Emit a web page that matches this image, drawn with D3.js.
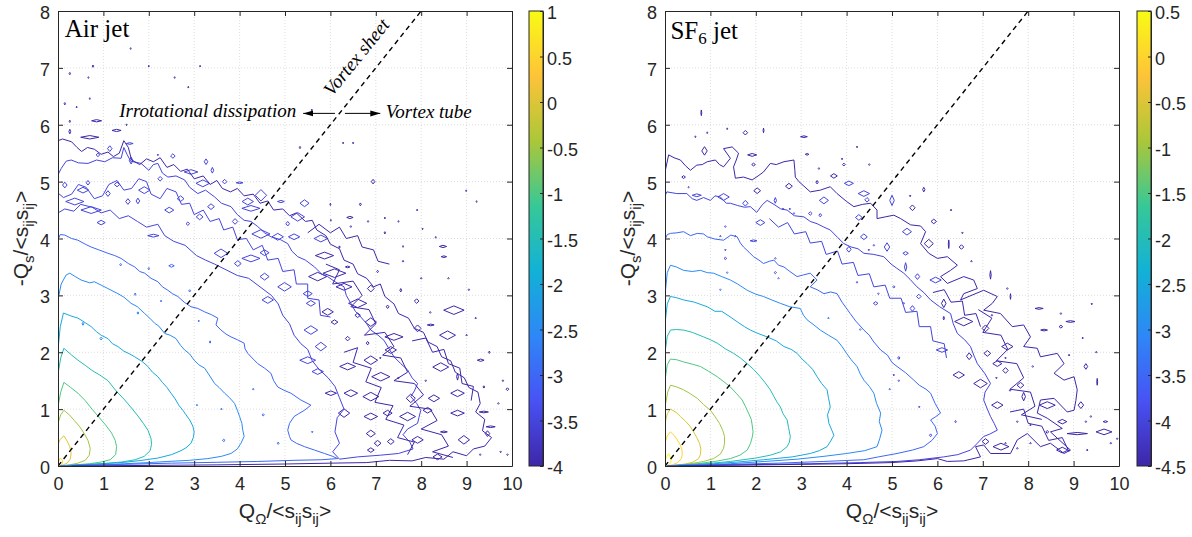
<!DOCTYPE html>
<html>
<head>
<meta charset="utf-8">
<script src="https://cdn.jsdelivr.net/npm/d3@7"></script>
<style>
  body { margin: 0; background: #fff; }
  svg text { font-family: "Liberation Sans", Arial, sans-serif; fill: #262626; }
</style>
</head>
<body>
<div id="chart"></div>
<script>
// ---- ticks ----
var xTickVals = [0, 1, 2, 3, 4, 5, 6, 7, 8, 9, 10];
var yTickVals = [0, 1, 2, 3, 4, 5, 6, 7, 8];
var airCbTicks = [1, 0.5, 0, -0.5, -1, -1.5, -2, -2.5, -3, -3.5, -4];
var sf6CbTicks = [0.5, 0, -0.5, -1, -1.5, -2, -2.5, -3, -3.5, -4, -4.5];
var diagLine = [[0, 0], [8, 8]];

// ---- Air jet contour lines (log10 PDF levels) ----
var airC05 = [[0,0.05],[0.05,0.14],[0.1,0.1],[0.09,0.03],[0.04,0.005]];
var airC0 = [[0,0.38],[0.05,0.47],[0.13,0.53],[0.2,0.44],[0.26,0.34],[0.29,0.22],[0.27,0.12],[0.2,0.05],[0.1,0.015],[0.02,0.003]];
var airCm05 = [[0,0.75],[0.06,0.9],[0.13,0.98],[0.25,0.9],[0.36,0.8],[0.47,0.7],[0.57,0.58],[0.66,0.45],[0.71,0.31],[0.69,0.19],[0.6,0.1],[0.44,0.05],[0.25,0.02],[0.08,0.005]];
var airCm1 = [[0,1.05],[0.06,1.3],[0.13,1.47],[0.28,1.38],[0.44,1.28],[0.6,1.15],[0.75,1.0],[0.9,0.86],[1.05,0.72],[1.18,0.58],[1.26,0.45],[1.29,0.34],[1.27,0.2],[1.15,0.11],[0.95,0.07],[0.7,0.04],[0.44,0.025],[0.15,0.008]];
var airCm15 = [[0,1.62],[0.06,1.9],[0.13,2.07],[0.3,1.95],[0.44,1.86],[0.6,1.77],[0.75,1.68],[0.92,1.6],[1.1,1.5],[1.28,1.32],[1.47,1.16],[1.62,1.02],[1.76,0.88],[1.88,0.75],[1.98,0.63],[2.05,0.48],[2.06,0.38],[2.03,0.27],[1.9,0.17],[1.7,0.11],[1.4,0.07],[1.1,0.05],[0.7,0.03],[0.35,0.015],[0.05,0.003]];
var airCm2 = [[0,2.05],[0.05,2.45],[0.12,2.69],[0.28,2.64],[0.44,2.6],[0.6,2.52],[0.73,2.45],[0.85,2.36],[0.95,2.3],[1.1,2.24],[1.2,2.15],[1.32,2.1],[1.45,2.02],[1.58,1.97],[1.69,1.92],[1.85,1.84],[1.98,1.75],[2.08,1.65],[2.2,1.57],[2.3,1.47],[2.4,1.38],[2.49,1.28],[2.58,1.18],[2.66,1.07],[2.75,0.98],[2.82,0.9],[2.9,0.81],[2.97,0.7],[3.0,0.6],[2.98,0.5],[2.93,0.4],[2.82,0.32],[2.71,0.27],[2.5,0.2],[2.2,0.14],[1.85,0.1],[1.47,0.065],[1.0,0.04],[0.59,0.02],[0.1,0.005]];
var airCm25 = [[0,2.92],[0.07,3.2],[0.18,3.36],[0.26,3.39],[0.38,3.33],[0.51,3.27],[0.7,3.22],[0.8,3.24],[0.95,3.18],[1.1,3.12],[1.32,3.03],[1.45,2.97],[1.61,2.86],[1.75,2.8],[1.91,2.68],[2.02,2.6],[2.13,2.51],[2.22,2.46],[2.35,2.33],[2.47,2.3],[2.6,2.24],[2.7,2.12],[2.79,2.04],[2.9,1.97],[3.0,1.86],[3.1,1.78],[3.23,1.72],[3.33,1.6],[3.45,1.45],[3.55,1.38],[3.67,1.28],[3.78,1.2],[3.89,1.1],[3.95,0.98],[4.0,0.87],[4.05,0.75],[4.07,0.63],[4.1,0.52],[4.03,0.4],[3.95,0.3],[3.81,0.22],[3.6,0.17],[3.3,0.13],[2.9,0.1],[2.42,0.08],[2.0,0.06],[1.47,0.04],[0.9,0.02],[0.44,0.01],[0.05,0.002]];
var airCm3 = [[0,3.98],[0.05,4.07],[0.15,4.06],[0.3,4.0],[0.44,3.97],[0.6,3.9],[0.73,3.85],[0.9,3.8],[1.1,3.74],[1.25,3.7],[1.39,3.65],[1.55,3.56],[1.69,3.5],[1.8,3.42],[1.91,3.39],[2.05,3.3],[2.2,3.24],[2.3,3.15],[2.42,3.09],[2.52,3.03],[2.64,2.98],[2.78,2.88],[2.93,2.8],[3.08,2.77],[3.23,2.71],[3.38,2.66],[3.52,2.6],[3.48,2.48],[3.59,2.39],[3.7,2.32],[3.81,2.27],[3.95,2.22],[4.1,2.16],[4.12,2.06],[4.18,1.98],[4.3,1.88],[4.4,1.8],[4.55,1.72],[4.69,1.63],[4.75,1.5],[4.84,1.39],[4.98,1.33],[5.13,1.28],[5.35,1.16],[5.57,1.07],[5.43,0.98],[5.3,0.92],[5.2,0.87],[5.1,0.75],[5.06,0.63],[5.1,0.52],[5.13,0.46],[5.25,0.4],[5.43,0.34],[5.65,0.28],[5.87,0.22],[6.05,0.17],[6.16,0.13],[5.8,0.11],[5.2,0.1],[4.4,0.08],[3.5,0.065],[2.5,0.05],[1.5,0.03],[0.6,0.015],[0.05,0.003]];
var airCm35a = [[0,5.12],[0.07,5.23],[0.18,5.36],[0.29,5.38],[0.45,5.33],[0.66,5.32],[0.85,5.38],[1.03,5.35],[1.2,5.42],[1.39,5.41],[1.45,5.6],[1.52,5.48],[1.6,5.36],[1.83,5.32],[2.0,5.2],[2.1,5.3],[2.2,5.32],[2.3,5.15],[2.42,5.08],[2.6,5.1],[2.79,5.03],[2.9,4.9],[3.08,4.79],[3.25,4.85],[3.45,4.73],[3.6,4.62],[3.81,4.56],[3.95,4.42],[4.1,4.32],[4.25,4.3],[4.4,4.21],[4.55,4.1],[4.69,4.03],[4.9,3.98],[5.06,3.91],[5.15,3.78],[5.28,3.68],[5.45,3.62],[5.65,3.5],[5.8,3.38],[5.94,3.33],[6.1,3.24],[6.3,3.15],[6.35,3.0],[6.45,2.86],[6.55,2.72],[6.67,2.62],[6.8,2.5],[6.89,2.39],[7.05,2.3],[7.18,2.21],[7.3,2.05],[7.4,1.92],[7.55,1.8],[7.7,1.69],[7.8,1.55],[7.92,1.45],[7.85,1.32],[7.77,1.22],[7.9,1.1],[7.99,0.98],[7.95,0.85],[7.92,0.75],[7.7,0.65],[7.6,0.55],[7.75,0.42],[7.82,0.3],[7.5,0.22],[7.1,0.19],[6.6,0.16],[6.2,0.12]];
var airCm35b = [[0,4.45],[0.15,4.52],[0.35,4.48],[0.5,4.6],[0.75,4.55],[0.95,4.45],[1.15,4.5],[1.35,4.35],[1.55,4.4],[1.75,4.3],[1.95,4.2],[2.2,4.25],[2.35,4.05],[2.55,3.95],[2.8,3.88],[3.05,3.7],[3.25,3.62],[3.45,3.55],[3.7,3.45],[3.95,3.35],[4.2,3.3],[4.45,3.15],[4.7,3.0],[4.85,2.85],[4.95,2.65],[5.1,2.5],[5.2,2.3],[5.35,2.15],[5.5,2.05],[5.6,1.85],[5.75,1.7],[5.95,1.55],[6.1,1.4],[6.2,1.2],[6.3,1.0],[6.15,0.85],[6.1,0.6],[6.2,0.4],[6.05,0.25],[6.2,0.12]];
var airCm35c = [[0,4.8],[0.12,4.72],[0.3,4.78],[0.45,4.95],[0.62,4.9],[0.8,4.7],[0.98,4.75],[1.12,4.95],[1.3,5.02],[1.45,4.85],[1.62,4.88],[1.78,5.05],[1.95,5.0],[2.05,4.78],[2.25,4.7],[2.4,4.88],[2.6,4.82],[2.72,4.6],[2.9,4.62],[3.0,4.42],[3.2,4.5],[3.35,4.3],[3.55,4.35],[3.65,4.15],[3.85,4.2],[3.95,3.98],[4.15,4.0],[4.3,3.8],[4.5,3.88],[4.62,3.62],[4.85,3.65],[4.95,3.42],[5.2,3.45],[5.25,3.2],[5.5,3.2],[5.5,2.95],[5.75,2.92],[5.78,2.65],[6.0,2.62]];
var airCm4 = [[0,5.72],[0.1,5.75],[0.3,5.7],[0.42,5.6],[0.52,5.53],[0.65,5.6],[0.8,5.57],[0.95,5.48],[1.1,5.52],[1.22,5.44],[1.35,5.5],[1.45,5.72],[1.55,5.6],[1.62,5.38],[1.8,5.3],[1.95,5.4],[2.1,5.35],[2.25,5.42],[2.4,5.25],[2.55,5.3],[2.7,5.18],[2.85,5.22],[3.0,5.05],[3.2,5.1],[3.35,4.95],[3.5,5.02],[3.62,4.88],[3.8,4.82],[3.95,4.88],[4.1,4.75],[4.3,4.78],[4.45,4.62],[4.62,4.66],[4.75,4.5],[4.95,4.52],[5.1,4.4],[5.25,4.45],[5.45,4.3],[5.6,4.32],[5.7,4.15],[5.9,4.05],[6.0,3.9],[6.2,3.82],[6.3,3.62],[6.5,3.55],[6.6,3.38],[6.8,3.3],[6.95,3.15],[7.1,3.2],[7.2,2.98],[7.4,2.85],[7.5,2.68],[7.72,2.6],[7.85,2.42],[8.05,2.35],[8.15,2.18],[8.35,2.1],[8.45,1.92],[8.65,1.85],[8.75,1.65],[8.95,1.55],[9.05,1.38],[9.25,1.3],[9.3,1.1],[9.2,0.95],[9.4,0.82],[9.35,0.62],[9.55,0.5],[9.4,0.35],[9.15,0.3],[9.0,0.18],[8.7,0.25],[8.5,0.12],[8.1,0.15],[7.8,0.09],[7.3,0.1],[6.8,0.06],[6.0,0.05],[5.0,0.035],[3.5,0.02],[2.0,0.01],[0.3,0.002]];
var airCm4b = [[5.9,3.55],[6.2,3.45],[6.05,3.2],[6.5,3.25],[6.7,3.0],[6.45,2.8],[6.85,2.75],[7.0,2.5],[6.75,2.3],[7.2,2.35],[7.4,2.1],[7.15,1.95],[7.55,1.9],[7.7,1.65],[7.4,1.5],[7.85,1.45],[8.05,1.25],[7.75,1.05],[8.2,1.0],[8.35,0.8],[8.0,0.65],[8.45,0.55],[8.6,0.35],[8.25,0.25],[8.7,0.15]];
var airCm4c = [[6.3,2.0],[6.6,2.08],[6.5,1.82],[6.9,1.72],[6.78,1.48],[7.12,1.38],[6.98,1.12],[7.38,1.06],[7.22,0.82],[7.62,0.72],[7.48,0.5],[7.85,0.42],[7.7,0.2]];
var airCm4d = [[5.5,4.1],[5.75,4.25],[6.0,4.1],[6.2,4.2],[6.35,4.0],[6.6,4.05],[6.7,3.85],[6.95,3.8],[7.05,3.6],[7.3,3.55]];
var airCm4e = [[7.8,2.2],[8.1,2.25],[8.25,2.0],[8.5,2.05],[8.6,1.8],[8.85,1.72],[8.9,1.45],[9.15,1.4],[9.1,1.15]];

// small closed contours: [x, y, width, height]
var airIsl25 = [[0.95,2.24,.05,.05],[0.55,2.5,.04,.05],[1.76,2.69,.04,.04],[3.06,1.07,.03,.03]];
var airIsl3 = [[1.38,3.54,.04,.04],[2.0,3.47,.03,.04],[2.5,3.52,.12,.05],[1.7,3.02,.03,.04],[3.1,2.55,.03,.03],[3.35,2.18,.03,.04],[2.9,3.08,.04,.04],[2.27,2.9,.03,.03],[3.6,1.0,.03,.03],[3.65,0.45,.06,.04],[4.85,0.4,.04,.04],[4.3,1.35,.03,.03],[4.52,0.9,.05,.04],[5.6,0.6,.03,.03]];
var airIsl35 = [[1.14,5.58,.1,.1],[1.58,5.67,.15,.03],[0.88,5.47,.08,.06],[1.61,5.37,.08,.12],[2.53,5.45,.1,.08],[2.2,5.47,.03,.03],[2.93,5.17,.3,.08],[3.26,5.35,.08,.1],[3.4,5.2,.06,.1],[3.19,4.97,.3,.12],[3.67,5.0,.1,.08],[4.0,4.98,.15,.03],[0.55,4.85,.25,.1],[0.15,4.94,.1,.1],[0.66,4.98,.08,.08],[1.1,4.79,.1,.1],[1.9,4.85,.25,.12],[1.54,4.65,.1,.1],[1.76,4.66,.08,.1],[0.95,4.28,.18,.08],[0.73,4.5,.45,.12],[0.37,4.65,.4,.12],[3.37,4.56,.15,.1],[3.12,4.38,.15,.1],[2.86,4.26,.08,.06],[4.18,4.65,.25,.12],[4.47,4.76,.25,.2],[4.25,4.53,.4,.1],[4.91,4.65,.15,.04],[5.43,4.62,.2,.12],[5.28,4.38,.3,.15],[5.06,4.26,.08,.08],[4.47,4.08,.4,.15],[4.84,4.03,.25,.12],[5.2,4.03,.25,.1],[5.79,4.0,.3,.12],[3.59,3.74,.3,.15],[4.25,3.65,.4,.12],[4.55,3.75,.2,.1],[3.96,3.56,.15,.1],[4.55,3.33,.2,.12],[4.99,3.15,.3,.15],[4.62,2.92,.25,.12],[5.5,3.03,.2,.1],[5.57,2.86,.2,.1],[5.57,2.39,.3,.15],[5.79,2.1,.25,.15],[5.5,1.86,.35,.12],[5.72,1.66,.25,.1],[2.1,4.05,.25,.05],[2.45,4.5,.2,.1],[2.7,4.7,.15,.1],[1.3,4.95,.12,.08],[2.25,5.05,.1,.08],[3.9,4.3,.12,.1]];
var airIsl4 = [[1.51,7.57,.03,.05],[1.6,7.34,.02,.03],[0.26,6.9,.03,.04],[0.77,7.03,.03,.04],[2.0,7.03,.02,.03],[3.13,7.03,.02,.03],[2.57,6.83,.02,.03],[2.87,6.66,.02,.03],[0.67,6.83,.02,.03],[0.15,6.37,.03,.04],[0.41,6.31,.02,.03],[0.7,6.46,.02,.03],[0.26,6.06,.03,.04],[0.85,6.07,.22,.04],[1.29,5.9,.2,.04],[1.51,6.0,.02,.03],[0.26,5.88,.04,.08],[0.7,5.78,.4,.06],[5.59,6.26,.03,.03],[5.33,5.6,.03,.04],[6.28,5.68,.02,.03],[6.5,5.68,.02,.03],[6.94,5.0,.08,.08],[8.99,4.84,.02,.03],[9.22,4.65,.02,.03],[6.0,4.6,.02,.04],[6.66,4.6,.04,.05],[7.91,4.5,.02,.03],[6.43,4.37,.14,.04],[6.83,4.3,.03,.03],[7.2,4.36,.03,.03],[7.5,4.3,.02,.03],[8.03,4.17,.02,.03],[8.32,4.02,.02,.03],[8.48,3.86,.16,.04],[7.2,4.1,.03,.04],[7.6,3.86,.02,.03],
  [6.45,4.21,.03,.03],[6.01,4.32,.02,.03],[8.5,3.68,.12,.03],[6.2,3.85,.03,.04],[5.87,3.7,.4,.12],[6.38,3.5,.1,.03],[7.04,3.42,.04,.04],[5.72,3.33,.4,.15],[6.09,3.39,.5,.15],[6.3,3.15,.35,.12],[6.6,2.86,.4,.15],[6.89,3.12,.15,.12],[7.26,2.8,.06,.06],[7.55,3.09,.04,.06],[8.72,2.74,.45,.15],[5.94,2.71,.25,.12],[6.09,2.53,.15,.08],[6.6,2.65,.12,.08],[6.89,2.53,.25,.15],[7.92,2.42,.15,.12],[7.4,2.27,.4,.12],[8.58,2.3,.35,.15],[8.21,2.48,.15,.03],[6.38,2.24,.1,.08],[6.82,2.16,.06,.06],[6.38,1.75,.35,.12],[6.89,1.86,.3,.15],[7.33,2.04,.25,.12],[8.43,1.74,.35,.15],[9.31,1.86,.15,.04],[8.8,1.57,.04,.12],[6.01,1.28,.25,.08],[6.45,1.28,.3,.12],[6.89,1.22,.35,.15],[7.11,1.57,.4,.15],[7.77,1.19,.2,.15],[8.28,1.19,.25,.12],[8.8,1.28,.3,.12],[9.38,1.39,.04,.04],[6.3,0.93,.25,.15],[6.89,0.87,.3,.12],[7.26,0.93,.2,.1],[7.7,0.87,.35,.15],[8.14,0.98,.2,.1],[8.8,0.93,.3,.1],[9.38,0.95,.2,.03],[9.53,0.69,.2,.03],[9.46,0.57,.1,.1],[6.89,0.57,.2,.12],[7.04,0.4,.15,.1],[7.33,0.43,.15,.1],[7.92,0.46,.25,.12],[8.36,0.16,.2,.1],[8.94,0.46,.25,.15],[8.5,0.6,.15,.03],[6.89,0.28,.15,.08],[9.75,0.25,.03,.03],[9.9,0.2,.03,.03],[9.0,2.3,.03,.03],[9.5,2.0,.03,.04],[9.2,2.6,.03,.03],[9.8,1.5,.03,.03],[9.7,1.1,.03,.03],[9.3,0.2,.03,.03],[8.1,1.5,.03,.03],[7.5,1.55,.03,.03],[7.1,1.9,.03,.03],[8.0,3.3,.03,.03],[8.6,3.3,.03,.03],[7.6,3.6,.03,.03],[7.9,2.9,.1,.08],[8.2,2.7,.03,.03],[9.05,3.1,.03,.03],[9.9,1.35,.06,.05]];

// ---- SF6 jet contour lines ----
var sf6C05 = [[0,0.1],[0.04,0.17],[0.08,0.22],[0.12,0.15],[0.13,0.08],[0.1,0.03],[0.05,0.01],[0.01,0.002]];
var sf6C0 = [[0,0.41],[0.05,0.53],[0.12,0.6],[0.2,0.54],[0.27,0.46],[0.33,0.38],[0.37,0.3],[0.38,0.2],[0.36,0.13],[0.28,0.06],[0.16,0.02],[0.04,0.004]];
var sf6Cm05 = [[0,0.75],[0.05,0.92],[0.12,1.0],[0.25,0.94],[0.34,0.87],[0.45,0.79],[0.56,0.69],[0.63,0.6],[0.7,0.5],[0.76,0.4],[0.79,0.3],[0.78,0.2],[0.74,0.13],[0.62,0.07],[0.45,0.035],[0.2,0.01],[0.03,0.002]];
var sf6Cm1 = [[0,1.04],[0.06,1.3],[0.12,1.42],[0.26,1.39],[0.41,1.34],[0.56,1.27],[0.71,1.19],[0.85,1.08],[1.0,0.98],[1.1,0.87],[1.2,0.75],[1.27,0.63],[1.31,0.52],[1.31,0.4],[1.29,0.31],[1.22,0.21],[1.07,0.13],[0.85,0.08],[0.56,0.04],[0.25,0.015],[0.03,0.002]];
var sf6Cm15 = [[0,1.5],[0.05,1.78],[0.12,1.88],[0.25,1.87],[0.41,1.83],[0.6,1.79],[0.78,1.75],[0.95,1.67],[1.15,1.57],[1.3,1.48],[1.44,1.39],[1.58,1.27],[1.7,1.16],[1.77,1.05],[1.84,0.93],[1.9,0.82],[1.92,0.72],[1.94,0.6],[1.92,0.5],[1.88,0.39],[1.81,0.28],[1.65,0.19],[1.44,0.13],[1.1,0.08],[0.71,0.04],[0.3,0.015],[0.04,0.002]];
var sf6Cm2 = [[0,1.99],[0.05,2.28],[0.12,2.39],[0.25,2.4],[0.41,2.39],[0.6,2.35],[0.85,2.27],[1.0,2.22],[1.15,2.16],[1.33,2.06],[1.51,1.98],[1.66,1.9],[1.81,1.8],[1.95,1.7],[2.1,1.57],[2.2,1.47],[2.32,1.34],[2.4,1.22],[2.47,1.12],[2.54,1.04],[2.6,0.92],[2.69,0.81],[2.72,0.68],[2.76,0.52],[2.74,0.42],[2.69,0.34],[2.55,0.25],[2.32,0.19],[2.0,0.14],[1.44,0.08],[0.9,0.04],[0.41,0.02],[0.05,0.003]];
var sf6Cm25 = [[0,2.5],[0.05,2.85],[0.12,2.98],[0.25,2.96],[0.41,2.92],[0.65,2.88],[0.93,2.8],[1.1,2.72],[1.25,2.72],[1.44,2.62],[1.6,2.53],[1.75,2.45],[1.88,2.39],[2.05,2.33],[2.25,2.27],[2.45,2.2],[2.62,2.1],[2.78,2.05],[2.91,1.98],[3.02,1.88],[3.13,1.8],[3.25,1.7],[3.35,1.57],[3.45,1.45],[3.57,1.34],[3.6,1.2],[3.64,1.04],[3.58,0.9],[3.61,0.75],[3.68,0.62],[3.72,0.54],[3.65,0.44],[3.57,0.34],[3.4,0.27],[3.2,0.22],[2.8,0.16],[2.17,0.11],[1.6,0.07],[1.07,0.04],[0.5,0.02],[0.05,0.003]];
var sf6Cm3 = [[0,3.0],[0.05,3.4],[0.12,3.53],[0.25,3.5],[0.41,3.44],[0.6,3.42],[0.78,3.44],[0.93,3.4],[1.07,3.39],[1.25,3.33],[1.44,3.27],[1.6,3.2],[1.81,3.09],[2.0,3.02],[2.17,2.98],[2.35,2.92],[2.54,2.86],[2.75,2.8],[2.98,2.77],[3.05,2.65],[3.13,2.57],[3.28,2.48],[3.42,2.39],[3.6,2.3],[3.79,2.21],[3.9,2.1],[4.0,1.98],[4.1,1.87],[4.23,1.75],[4.3,1.62],[4.38,1.51],[4.5,1.4],[4.6,1.28],[4.66,1.1],[4.75,0.93],[4.72,0.78],[4.78,0.63],[4.73,0.48],[4.67,0.34],[4.4,0.27],[4.0,0.22],[3.5,0.17],[2.91,0.12],[2.2,0.08],[1.44,0.04],[0.6,0.015],[0.05,0.003]];
var sf6Cm35 = [[0,3.98],[0.05,4.07],[0.12,4.09],[0.26,4.1],[0.41,4.12],[0.56,4.05],[0.71,4.09],[0.85,4.08],[0.93,4.03],[1.1,3.99],[1.29,3.97],[1.45,4.06],[1.59,4.03],[1.66,3.92],[1.73,3.85],[1.85,3.76],[1.95,3.68],[2.07,3.62],[2.17,3.56],[2.3,3.6],[2.4,3.62],[2.5,3.53],[2.62,3.5],[2.75,3.42],[2.91,3.33],[3.05,3.36],[3.2,3.39],[3.35,3.27],[3.2,3.15],[3.35,3.1],[3.5,3.03],[3.65,3.06],[3.79,3.03],[3.9,2.88],[4.08,2.68],[4.2,2.55],[4.38,2.39],[4.5,2.3],[4.6,2.18],[4.75,2.04],[4.9,1.95],[5.0,1.82],[5.11,1.75],[5.3,1.64],[5.48,1.51],[5.6,1.42],[5.75,1.35],[5.85,1.28],[5.95,1.1],[6.07,0.93],[5.95,0.86],[5.85,0.81],[5.95,0.7],[6.0,0.57],[5.88,0.45],[5.7,0.34],[5.45,0.28],[5.11,0.22],[4.7,0.16],[4.38,0.11],[3.5,0.08],[2.5,0.05],[1.5,0.03],[0.5,0.01],[0.05,0.002]];
var sf6Cm4 = [[0,4.75],[0.04,4.82],[0.26,4.79],[0.48,4.79],[0.6,4.7],[0.7,4.67],[0.85,4.72],[1.0,4.67],[1.1,4.75],[1.22,4.73],[1.35,4.62],[1.44,4.62],[1.6,4.58],[1.75,4.55],[1.88,4.56],[2.02,4.46],[2.15,4.6],[2.25,4.67],[2.4,4.6],[2.55,4.52],[2.69,4.5],[2.85,4.4],[3.06,4.38],[3.2,4.3],[3.35,4.26],[3.5,4.2],[3.64,4.15],[3.8,4.02],[3.94,3.91],[4.1,3.85],[4.25,3.82],[4.38,3.74],[4.6,3.72],[4.82,3.68],[4.98,3.55],[5.1,3.48],[5.26,3.39],[5.4,3.28],[5.55,3.15],[5.7,3.05],[5.85,2.92],[6.05,2.8],[6.29,2.68],[6.35,2.5],[6.44,2.33],[6.6,2.22],[6.73,2.1],[6.8,1.95],[6.88,1.8],[7.05,1.62],[7.17,1.45],[7.05,1.3],[7.02,1.16],[7.1,1.0],[7.17,0.87],[7.25,0.75],[7.32,0.63],[7.15,0.56],[7.02,0.52],[6.88,0.4],[6.73,0.28],[6.45,0.2],[6.14,0.16],[5.6,0.11],[5.11,0.08],[4.3,0.06],[3.2,0.04],[2.0,0.025],[0.8,0.01],[0.05,0.002]];
var sf6Cm4b = [[2.3,4.35],[2.5,4.2],[2.7,4.28],[2.85,4.08],[3.1,4.12],[3.2,3.92],[3.45,3.95],[3.55,3.72],[3.8,3.78],[3.9,3.55],[4.15,3.58],[4.25,3.35],[4.5,3.38],[4.6,3.15],[4.85,3.18],[4.95,2.95],[5.2,2.95],[5.3,2.7],[5.55,2.72],[5.6,2.45],[5.85,2.45],[5.9,2.2],[6.15,2.15],[6.2,1.9]];
var sf6Cm45 = [[0,5.17],[0.08,5.47],[0.2,5.42],[0.34,5.38],[0.45,5.28],[0.56,5.2],[0.7,5.29],[0.82,5.3],[0.93,5.35],[1.11,5.38],[1.2,5.3],[1.29,5.26],[1.44,5.41],[1.29,5.58],[1.48,5.61],[1.62,5.5],[1.57,5.38],[1.51,5.26],[1.55,5.06],[1.73,5.08],[1.92,5.03],[2.05,5.1],[2.17,5.17],[2.32,5.32],[2.45,5.3],[2.62,5.35],[2.84,5.38],[2.86,5.2],[2.87,5.08],[2.95,5.0],[3.2,4.82],[3.42,4.85],[3.64,4.91],[3.79,4.79],[4.0,4.65],[4.16,4.56],[4.35,4.6],[4.53,4.62],[4.67,4.5],[4.67,4.35],[4.85,4.38],[5.04,4.41],[5.19,4.35],[5.41,4.24],[5.63,4.22],[5.74,4.12],[5.63,3.91],[5.81,3.74],[6.0,3.65],[6.22,3.68],[6.44,3.53],[6.29,3.44],[6.07,3.33],[6.22,3.21],[6.58,3.33],[6.8,3.27],[6.88,3.12],[6.58,3.03],[6.51,2.92],[7.02,3.09],[7.32,2.98],[7.21,2.86],[7.02,2.74],[7.39,2.68],[7.65,2.45],[7.9,2.48],[8.05,2.27],[7.9,2.1],[8.2,2.07],[8.27,1.92],[8.64,1.98],[8.79,1.8],[8.57,1.63],[8.79,1.51],[9.01,1.57],[9.08,1.34],[9.05,1.15],[9.01,0.98],[8.86,0.95],[8.57,1.19],[8.27,1.16],[8.2,0.93],[8.42,0.84],[8.75,0.66],[8.49,0.6],[8.64,0.49],[8.93,0.28],[8.79,0.22],[8.49,0.4],[8.27,0.34],[7.98,0.57],[7.76,0.46],[7.61,0.22],[7.17,0.22],[7.02,0.37],[6.84,0.34],[6.95,0.16],[6.58,0.09],[6.22,0.08],[6.0,0.13],[5.56,0.09],[5.0,0.06],[4.0,0.04],[2.17,0.02],[0.3,0.003]];
var sf6Cm45b = [[6.9,2.75],[7.2,2.6],[7.0,2.35],[7.4,2.3],[7.55,2.05],[7.3,1.85],[7.75,1.8],[7.9,1.55],[7.6,1.35],[8.05,1.3],[8.15,1.05],[7.85,0.9],[8.3,0.82]];
var sf6Cm45c = [[7.6,0.95],[7.9,1.0],[8.0,0.75],[8.3,0.7],[8.45,0.45],[8.75,0.5],[8.9,0.25]];
var sf6Cm45d = [[5.9,3.05],[6.15,3.1],[6.3,2.88],[6.55,2.9],[6.6,2.65],[6.85,2.68],[6.95,2.45]];

var sf6Isl35 = [[1.37,3.4,.03,.03],[1.22,3.1,.03,.03],[2.5,3.3,.03,.03],[4.3,2.4,.03,.03],[4.95,1.35,.03,.03],[3.6,2.6,.03,.03]];
var sf6Isl4 = [[3.5,4.67,.2,.12],[4.38,4.79,.25,.1],[4.45,4.68,.1,.08],[5.0,4.67,.1,.18],[4.27,4.37,.15,.1],[4.89,3.85,.12,.15],[4.6,3.88,.03,.03],[4.49,3.8,.03,.03],[4.38,4.03,.15,.1],[4.05,3.81,.1,.1],[5.33,4.12,.2,.12],[5.3,3.74,.12,.06],[5.3,3.5,.05,.15],[3.42,4.41,.06,.06],[3.2,4.44,.08,.06],[2.1,4.28,.2,.1],[1.33,4.21,.03,.03],[1.55,4.04,.03,.03],[1.22,4.04,.03,.03],[1.95,3.96,.15,.03],[1.33,3.8,.03,.03],[1.33,3.65,.06,.04],[2.43,3.65,.03,.03],[2.43,3.4,.05,.04],[2.6,4.52,.03,.03],[2.75,4.52,.03,.03],[2.84,4.44,.03,.03],[4.64,2.86,.1,.06],[4.7,3.03,.03,.03],[5.04,3.15,.05,.04],[4.23,3.23,.03,.03],[5.59,2.98,.1,.08],[5.45,2.77,.1,.1],[5.26,2.86,.03,.03],[5.04,1.6,.03,.03],[5.15,1.9,.05,.05],[5.15,1.5,.03,.03],[5.6,1.04,.03,.03],[5.85,0.54,.05,.05],[6.4,0.78,.03,.04],[6.1,2.04,.25,.08],[5.56,3.33,.1,.1],[5.96,3.27,.25,.1],[0.52,4.9,.02,.03],[0.7,4.76,.2,.05],[1.29,4.73,.25,.12],[1.77,4.62,.12,.1],[2.43,4.67,.05,.1],[4.05,4.97,.2,.08]];
var sf6Isl45 = [[0.8,6.21,.02,.1],[1.37,5.93,.02,.03],[1.77,5.86,.1,.08],[2.17,5.9,.02,.08],[3.06,5.79,.15,.03],[0.93,5.86,.02,.03],[0.67,5.79,.02,.03],[0.87,5.54,.12,.15],[1.92,5.47,.2,.05],[1.95,5.3,.08,.05],[3.13,5.48,.08,.03],[4.23,5.61,.02,.03],[3.9,5.4,.02,.03],[3.94,5.3,.06,.05],[3.39,5.23,.03,.03],[3.72,5.1,.15,.08],[3.35,4.99,.05,.06],[2.73,4.92,.15,.1],[2.03,4.84,.15,.1],[0.41,5.08,.08,.05],[5.45,4.54,.12,.1],[5.7,4.86,.05,.08],[5.4,4.75,.03,.03],[5.81,3.91,.2,.15],[5.92,4.3,.12,.08],[6.25,3.9,.02,.15],[6.53,3.85,.1,.08],[7.17,3.36,.03,.15],[7.54,3.12,.03,.03],[7.61,2.98,.02,.1],[8.24,2.77,.18,.03],[8.72,2.68,.03,.03],[8.93,2.54,.2,.03],[8.35,2.39,.15,.03],[8.72,2.45,.08,.05],[9.4,2.85,.03,.03],[6.14,2.86,.1,.15],[6.14,2.6,.03,.06],[6.58,2.54,.4,.15],[7.06,2.42,.15,.12],[6.7,1.93,.12,.12],[7.1,1.98,.15,.1],[7.5,1.9,.03,.03],[7.54,2.1,.25,.12],[7.32,1.8,.2,.1],[7.5,1.68,.12,.1],[6.47,1.6,.25,.12],[6.95,1.45,.3,.15],[7.32,1.07,.25,.12],[7.83,1.42,.15,.1],[7.6,1.33,.03,.03],[7.9,1.22,.08,.15],[8.42,1.07,.35,.12],[9.27,1.75,.08,.1],[9.52,1.48,.02,.12],[9.16,1.07,.12,.12],[7.76,0.78,.03,.03],[8.05,0.72,.03,.03],[8.75,0.78,.2,.08],[9.27,0.78,.03,.03],[9.38,0.87,.03,.03],[9.7,0.78,.1,.03],[9.67,0.6,.35,.1],[9.08,0.57,.45,.04],[8.42,0.6,.06,.05],[7.4,0.34,.35,.12],[7.5,0.4,.03,.03],[7.76,0.31,.03,.03],[8.05,0.4,.03,.03],[8.75,0.28,.25,.1],[9.3,0.28,.03,.03],[9.82,0.4,.03,.03],[9.96,0.48,.03,.03],[7.06,0.43,.15,.1],[7.3,1.55,.03,.03],[8.1,1.75,.03,.03],[9.2,2.25,.03,.03],[9.5,2.0,.03,.03],[8.9,1.95,.03,.03],[6.75,3.6,.03,.03],[6.3,4.5,.03,.03],[7.2,2.65,.03,.03],[6.55,4.1,.03,.03],[4.5,5.3,.03,.03],[5.1,5.1,.02,.03]];

// parula(8)
var parula = ["#3e26a8", "#4852f4", "#2e87f7", "#12b1d6", "#37c897", "#abc739", "#fec338", "#f9fb15"];

var width = 1192, height = 537;
var plotTop = 11, plotBottom = 466, plotW = 454, cbW = 14;

var svg = d3.select("#chart").append("svg")
    .attr("width", width)
    .attr("height", height);
svg.append("rect").attr("width", width).attr("height", height).attr("fill", "#fff");
var defs = svg.append("defs");

defs.append("marker")
    .attr("id", "arrowhead")
    .attr("viewBox", "0 0 10 10")
    .attr("refX", 10).attr("refY", 5)
    .attr("markerWidth", 10).attr("markerHeight", 10)
    .attr("markerUnits", "userSpaceOnUse")
    .attr("orient", "auto")
    .append("path")
    .attr("d", "M0,2 L10,5 L0,8 Z")
    .attr("fill", "#000");

var panels = [
    {id: "air", left: 58, cbx: 529, cmin: -4, cmax: 1, cbTicks: airCbTicks,
     lines: [[0.5, airC05], [0, airC0], [-0.5, airCm05], [-1, airCm1], [-1.5, airCm15], [-2, airCm2], [-2.5, airCm25], [-3, airCm3],
             [-3.5, airCm35a], [-3.5, airCm35b], [-3.5, airCm35c], [-4, airCm4], [-4, airCm4b], [-4, airCm4c], [-4, airCm4d], [-4, airCm4e]],
     islands: [[-2.5, airIsl25], [-3, airIsl3], [-3.5, airIsl35], [-4, airIsl4]]},
    {id: "sf6", left: 665, cbx: 1137, cmin: -4.5, cmax: 0.5, cbTicks: sf6CbTicks,
     lines: [[0.5, sf6C05], [0, sf6C0], [-0.5, sf6Cm05], [-1, sf6Cm1], [-1.5, sf6Cm15], [-2, sf6Cm2], [-2.5, sf6Cm25], [-3, sf6Cm3],
             [-3.5, sf6Cm35], [-4, sf6Cm4], [-4, sf6Cm4b], [-4.5, sf6Cm45], [-4.5, sf6Cm45b], [-4.5, sf6Cm45c], [-4.5, sf6Cm45d]],
     islands: [[-3.5, sf6Isl35], [-4, sf6Isl4], [-4.5, sf6Isl45]]}
];

function diamond(d) {
    return [[d[0] - d[2] / 2, d[1]], [d[0], d[1] + d[3] / 2], [d[0] + d[2] / 2, d[1]], [d[0], d[1] - d[3] / 2]];
}

function styleAxis(sel) {
    sel.select(".domain").attr("stroke", "#262626").attr("stroke-width", 1);
    sel.selectAll(".tick line").attr("stroke", "#262626").attr("stroke-width", 1);
    sel.selectAll(".tick text").style("font-size", "18px").attr("fill", "#262626");
}

panels.forEach(function(p) {
    var x = d3.scaleLinear().domain([0, 10]).range([p.left, p.left + plotW]);
    var y = d3.scaleLinear().domain([0, 8]).range([plotBottom, plotTop]);
    var color = d3.scaleLinear()
        .domain(parula.map(function(c, i) { return p.cmin + i * (p.cmax - p.cmin) / (parula.length - 1); }))
        .range(parula);

    var g = svg.append("g");

    defs.append("clipPath").attr("id", "clip-" + p.id)
        .append("rect").attr("x", p.left).attr("y", plotTop).attr("width", plotW).attr("height", plotBottom - plotTop);

    // grid
    var grid = g.append("g");
    grid.selectAll(".vx").data(xTickVals.slice(1, -1)).enter().append("line")
        .attr("x1", function(d) { return x(d); }).attr("x2", function(d) { return x(d); })
        .attr("y1", plotTop).attr("y2", plotBottom);
    grid.selectAll(".hy").data(yTickVals.slice(1, -1)).enter().append("line")
        .attr("x1", p.left).attr("x2", p.left + plotW)
        .attr("y1", function(d) { return y(d); }).attr("y2", function(d) { return y(d); });
    grid.selectAll("line").attr("stroke", "#d4d4d4").attr("stroke-width", 0.8).attr("stroke-dasharray", "1,2");

    var plot = g.append("g").attr("clip-path", "url(#clip-" + p.id + ")");
    var line = d3.line().x(function(d) { return x(d[0]); }).y(function(d) { return y(d[1]); });
    var loop = d3.line().x(function(d) { return x(d[0]); }).y(function(d) { return y(d[1]); }).curve(d3.curveLinearClosed);

    p.islands.forEach(function(grp) {
        plot.append("g").selectAll("path").data(grp[1]).enter().append("path")
            .attr("d", function(d) { return loop(diamond(d)); })
            .attr("fill", "none")
            .attr("stroke", color(grp[0]))
            .attr("stroke-width", 1);
    });
    p.lines.forEach(function(c) {
        plot.append("path")
            .attr("d", line(c[1]))
            .attr("fill", "none")
            .attr("stroke", color(c[0]))
            .attr("stroke-width", 1)
            .attr("stroke-linejoin", "round");
    });

    plot.append("path")
        .attr("d", line(diagLine))
        .attr("fill", "none")
        .attr("stroke", "#000")
        .attr("stroke-width", 1.4)
        .attr("stroke-dasharray", "5,4");

    // axes (ticks inward, box)
    g.append("g").attr("transform", "translate(0," + plotBottom + ")")
        .call(d3.axisBottom(x).tickValues(xTickVals).tickSize(-5).tickSizeOuter(0).tickPadding(11).tickFormat(function(d) { return d; }))
        .call(styleAxis);
    g.append("g").attr("transform", "translate(0," + plotTop + ")")
        .call(d3.axisTop(x).tickValues(xTickVals).tickSize(-5).tickSizeOuter(0).tickFormat(""))
        .call(styleAxis);
    var ya = g.append("g").attr("transform", "translate(" + p.left + ",0)")
        .call(d3.axisLeft(y).tickValues(yTickVals).tickSize(-5).tickSizeOuter(0).tickPadding(8).tickFormat(function(d) { return d; }))
        .call(styleAxis);
    ya.selectAll(".tick text").attr("dy", "0.42em");
    g.append("g").attr("transform", "translate(" + (p.left + plotW) + ",0)")
        .call(d3.axisRight(y).tickValues(yTickVals).tickSize(-5).tickSizeOuter(0).tickFormat(""))
        .call(styleAxis);

    // axis labels
    var cx = p.left + plotW / 2;
    var xl = g.append("text").attr("x", cx).attr("y", 518).attr("text-anchor", "middle").style("font-size", "21px");
    xl.append("tspan").text("Q");
    xl.append("tspan").attr("dy", 6).style("font-size", "15px").text("Ω");
    xl.append("tspan").attr("dy", -6).text("/<s");
    xl.append("tspan").attr("dy", 6).style("font-size", "15px").text("ij");
    xl.append("tspan").attr("dy", -6).text("s");
    xl.append("tspan").attr("dy", 6).style("font-size", "15px").text("ij");
    xl.append("tspan").attr("dy", -6).text(">");

    var yl = g.append("text")
        .attr("transform", "translate(" + (p.left - 30) + "," + ((plotTop + plotBottom) / 2) + ") rotate(-90)")
        .attr("text-anchor", "middle").style("font-size", "21px");
    yl.append("tspan").text("-Q");
    yl.append("tspan").attr("dy", 6).style("font-size", "15px").text("s");
    yl.append("tspan").attr("dy", -6).text("/<s");
    yl.append("tspan").attr("dy", 6).style("font-size", "15px").text("ij");
    yl.append("tspan").attr("dy", -6).text("s");
    yl.append("tspan").attr("dy", 6).style("font-size", "15px").text("ij");
    yl.append("tspan").attr("dy", -6).text(">");

    // colorbar
    var gradId = "grad-" + p.id;
    var grad = defs.append("linearGradient").attr("id", gradId)
        .attr("x1", 0).attr("y1", 1).attr("x2", 0).attr("y2", 0);
    parula.forEach(function(c, i) {
        grad.append("stop").attr("offset", i / (parula.length - 1)).attr("stop-color", c);
    });
    var cbY = d3.scaleLinear().domain([p.cmin, p.cmax]).range([plotBottom, plotTop]);
    g.append("rect").attr("x", p.cbx).attr("y", plotTop).attr("width", cbW).attr("height", plotBottom - plotTop)
        .attr("fill", "url(#" + gradId + ")");
    var cba = g.append("g").attr("transform", "translate(" + (p.cbx + cbW) + ",0)")
        .call(d3.axisRight(cbY).tickValues(p.cbTicks).tickSize(-3).tickSizeOuter(0).tickPadding(4).tickFormat(function(d) { return String(d); }))
        .call(styleAxis);
    cba.selectAll(".tick text").attr("dy", "0.42em");
    g.append("rect").attr("x", p.cbx).attr("y", plotTop).attr("width", cbW).attr("height", plotBottom - plotTop)
        .attr("fill", "none").attr("stroke", "#262626").attr("stroke-width", 1);

    p.x = x; p.y = y; p.g = g;
});

// ---- titles and annotations ----
var serif = '"Liberation Serif", "DejaVu Serif", serif';
var air = panels[0], sf6 = panels[1];

air.g.append("text").attr("x", air.x(0.15)).attr("y", air.y(7.54))
    .style("font-family", serif).style("font-size", "25px").style("fill", "#000").text("Air jet");

var st = sf6.g.append("text").attr("x", sf6.x(0.12)).attr("y", sf6.y(7.5))
    .style("font-family", serif).style("font-size", "25px").style("fill", "#000");
st.append("tspan").text("SF");
st.append("tspan").attr("dy", 5).style("font-size", "17px").text("6");
st.append("tspan").attr("dy", -5).text(" jet");

air.g.append("text").attr("x", air.x(5.25)).attr("y", air.y(6.13)).attr("text-anchor", "end")
    .style("font-family", serif).style("font-style", "italic").style("font-size", "19px").style("fill", "#000")
    .text("Irrotational dissipation");
air.g.append("text").attr("x", air.x(7.22)).attr("y", air.y(6.11))
    .style("font-family", serif).style("font-style", "italic").style("font-size", "19px").style("fill", "#000")
    .text("Vortex tube");
air.g.append("text")
    .attr("transform", "translate(" + air.x(6.04) + "," + air.y(6.49) + ") rotate(-51)")
    .style("font-family", serif).style("font-style", "italic").style("font-size", "19px").style("fill", "#000")
    .text("Vortex sheet");

air.g.append("line")
    .attr("x1", air.x(6.1)).attr("x2", air.x(5.4)).attr("y1", air.y(6.2)).attr("y2", air.y(6.2))
    .attr("stroke", "#000").attr("stroke-width", 1).attr("marker-end", "url(#arrowhead)");
air.g.append("line")
    .attr("x1", air.x(6.32)).attr("x2", air.x(7.1)).attr("y1", air.y(6.2)).attr("y2", air.y(6.2))
    .attr("stroke", "#000").attr("stroke-width", 1).attr("marker-end", "url(#arrowhead)");
</script>
</body>
</html>
